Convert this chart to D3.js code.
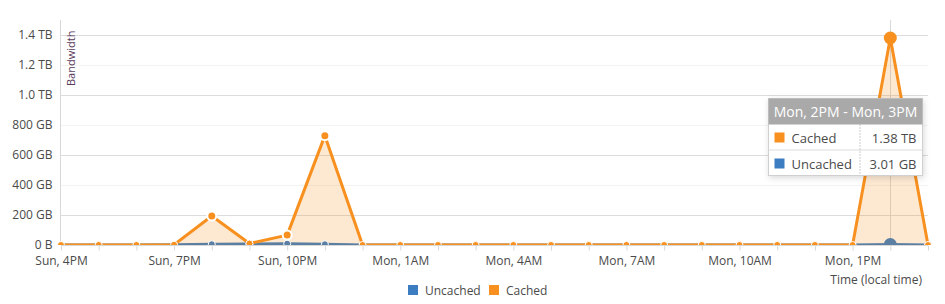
<!DOCTYPE html>
<html>
<head>
<meta charset="utf-8">
<script src="https://cdn.jsdelivr.net/npm/d3@7"></script>
<style>
    body { margin: 0; background: #fff; font-family: "Open Sans", sans-serif; }
    svg text { fill: #4a4a4a; }
</style>
</head>
<body>
<svg id="chart" width="945" height="304"></svg>
<script>
// hours from Sun 4PM to Mon 3PM
const hours = ["Sun, 4PM", "Sun, 5PM", "Sun, 6PM", "Sun, 7PM", "Sun, 8PM", "Sun, 9PM", "Sun, 10PM", "Sun, 11PM",
    "Mon, 12AM", "Mon, 1AM", "Mon, 2AM", "Mon, 3AM", "Mon, 4AM", "Mon, 5AM", "Mon, 6AM", "Mon, 7AM",
    "Mon, 8AM", "Mon, 9AM", "Mon, 10AM", "Mon, 11AM", "Mon, 12PM", "Mon, 1PM", "Mon, 2PM", "Mon, 3PM"];
// values in GB
const cached = [0, 0, 0, 2, 193, 10, 66, 729, 0, 0, 0, 0, 0, 0, 0, 0, 0, 0, 0, 0, 0, 0, 1380, 0];
const uncached = [0, 0, 0, 2, 5, 7, 9, 5, 0, 0, 0, 0, 0, 0, 0, 0, 0, 0, 0, 0, 0, 0, 3.01, 0];
const yTicks = [0, 200, 400, 600, 800, 1000, 1200, 1400];
const yTickLabels = ["0 B", "200 GB", "400 GB", "600 GB", "800 GB", "1.0 TB", "1.2 TB", "1.4 TB"];
const labelEvery = 3;
const hoverIndex = 22;

const orange = "#f7901e";
const blue = "#3b7dc0";
const blueLine = "#5a7fa3";

const svg = d3.select("#chart");
const plotLeft = 61, plotRight = 928, plotTop = 20, plotBottom = 245;

const x = d3.scaleLinear().domain([0, hours.length - 1]).range([plotLeft, plotRight]);
const y = d3.scaleLinear().domain([0, 1400]).range([plotBottom, 35]);

const defs = svg.append("defs");
defs.append("clipPath").attr("id", "plotclip")
    .append("rect").attr("x", plotLeft - 10).attr("y", 0)
    .attr("width", plotRight - plotLeft + 20).attr("height", plotBottom);

// gridlines (alternating strength)
svg.append("g").selectAll("line")
    .data(yTicks.filter(d => d > 0))
    .join("line")
    .attr("x1", plotLeft).attr("x2", plotRight)
    .attr("y1", d => Math.round(y(d)) + 0.5).attr("y2", d => Math.round(y(d)) + 0.5)
    .attr("stroke", (d, i) => i % 2 == 0 ? "#dcdcdc" : "#f3f3f3");

// y axis
const yAxis = svg.append("g")
    .attr("transform", `translate(${plotLeft - 0.5},0)`)
    .call(d3.axisLeft(y).tickValues(yTicks).tickFormat((d, i) => yTickLabels[i]).tickSize(5).tickPadding(3));
yAxis.select(".domain").attr("d", `M0,${plotTop}V${plotBottom}`).attr("stroke", "#d8d8d8");
yAxis.selectAll(".tick line").attr("stroke", "none");
yAxis.selectAll("text").attr("dy", "0.28em")
    .style("font-size", "12px").style("font-family", "Open Sans").attr("fill", "#4a4a4a");

// x axis
const xAxis = svg.append("g")
    .attr("transform", `translate(0,${plotBottom + 0.5})`)
    .call(d3.axisBottom(x).tickValues(d3.range(hours.length)).tickSize(5).tickPadding(6)
        .tickFormat(i => i % labelEvery == 0 ? hours[i] : ""));
xAxis.select(".domain").attr("stroke", "#d8d8d8").attr("d", `M${plotLeft},0H${plotRight}`);
xAxis.selectAll(".tick line").attr("stroke", "#d8d8d8");
xAxis.selectAll("text").style("font-size", "12px").style("font-family", "Open Sans").attr("fill", "#4a4a4a");

// axis titles
svg.append("text")
    .attr("transform", `translate(75,86) rotate(-90)`)
    .style("font-size", "11px")
    .style("fill", "#5a3a5a")
    .text("Bandwidth");
svg.append("text")
    .attr("x", 922).attr("y", 284)
    .attr("text-anchor", "end")
    .style("font-size", "12px")
    .text("Time (local time)");

// hover line
svg.append("line")
    .attr("x1", Math.round(x(hoverIndex)) + 0.5).attr("x2", Math.round(x(hoverIndex)) + 0.5)
    .attr("y1", plotTop).attr("y2", plotBottom)
    .attr("stroke", "#d9d9d9");

const area = d3.area().x((d, i) => x(i)).y0(y(0)).y1(d => y(d));
const line = d3.line().x((d, i) => x(i)).y(d => y(d));

const plot = svg.append("g").attr("clip-path", "url(#plotclip)");

plot.append("path").datum(cached)
    .attr("d", area).attr("fill", orange).attr("fill-opacity", 0.2);

// uncached
plot.append("path").datum(uncached)
    .attr("d", line).attr("fill", "none").attr("stroke", blueLine).attr("stroke-width", 3);
plot.append("g").selectAll("circle")
    .data(uncached.map((v, i) => [v, i]).filter(d => d[0] > 0 && d[1] != hoverIndex && d[1] > 3))
    .join("circle")
    .attr("cx", d => x(d[1])).attr("cy", d => y(d[0]))
    .attr("r", 3.5).attr("fill", blueLine).attr("stroke", "#fff").attr("stroke-width", 1);

// cached
plot.append("path").datum(cached)
    .attr("d", line).attr("fill", "none").attr("stroke", orange).attr("stroke-width", 3)
    .attr("stroke-linejoin", "round");
plot.append("g").selectAll("circle")
    .data(cached.map((v, i) => [v, i]).filter(d => d[1] != hoverIndex))
    .join("circle")
    .attr("cx", d => x(d[1])).attr("cy", d => y(d[0]))
    .attr("r", d => d[0] > 20 ? 4.5 : 3.5)
    .attr("fill", orange).attr("stroke", "#fff").attr("stroke-width", d => d[0] > 20 ? 2 : 1);

// hovered markers
plot.append("circle")
    .attr("cx", x(hoverIndex)).attr("cy", y(uncached[hoverIndex]))
    .attr("r", 6.5).attr("fill", blueLine);
plot.append("circle")
    .attr("cx", x(hoverIndex)).attr("cy", y(cached[hoverIndex]))
    .attr("r", 6.5).attr("fill", orange);

// tooltip
const tip = svg.append("g").attr("transform", "translate(768.5,98.5)");
const tw = 154, th = 77;
const f = defs.append("filter").attr("id", "shadow").attr("x", "-20%").attr("y", "-20%").attr("width", "140%").attr("height", "150%");
f.append("feDropShadow").attr("dx", 1).attr("dy", 2).attr("stdDeviation", 3).attr("flood-color", "#000").attr("flood-opacity", 0.15);
tip.append("rect").attr("width", tw).attr("height", th).attr("fill", "#fff")
    .attr("stroke", "#d0d0d0").attr("filter", "url(#shadow)");
tip.append("rect").attr("width", tw).attr("height", 26).attr("fill", "#a9a9a9");
tip.append("text").attr("x", tw / 2).attr("y", 18).attr("text-anchor", "middle")
    .style("font-size", "14px").style("fill", "#fff").text(`${hours[hoverIndex]} - ${hours[hoverIndex + 1]}`);
tip.append("line").attr("x1", 0).attr("x2", tw).attr("y1", 51.5).attr("y2", 51.5).attr("stroke", "#dcdcdc");
tip.append("line").attr("x1", 91.5).attr("x2", 91.5).attr("y1", 26).attr("y2", th)
    .attr("stroke", "#999").attr("stroke-dasharray", "1,2");

const tipRows = [
    { name: "Cached", color: orange, value: "1.38 TB" },
    { name: "Uncached", color: blue, value: "3.01 GB" }
];
tipRows.forEach((r, i) => {
    const ry = 26 + i * 26;
    tip.append("rect").attr("x", 6).attr("y", ry + 8).attr("width", 10).attr("height", 10).attr("fill", r.color);
    tip.append("text").attr("x", 23).attr("y", ry + 18).style("font-size", "13px").style("fill", "#4a4a4a").text(r.name);
    tip.append("text").attr("x", tw - 6).attr("y", ry + 18).attr("text-anchor", "end")
        .style("font-size", "13px").style("fill", "#4a4a4a").text(r.value);
});

// legend
const legendItems = [{ name: "Uncached", color: blue, x: 408 }, { name: "Cached", color: orange, x: 489 }];
const legend = svg.append("g");
legendItems.forEach(d => {
    legend.append("rect").attr("x", d.x).attr("y", 285).attr("width", 10).attr("height", 10).attr("fill", d.color);
    legend.append("text").attr("x", d.x + 17).attr("y", 295).style("font-size", "12px").text(d.name);
});
</script>
</body>
</html>
